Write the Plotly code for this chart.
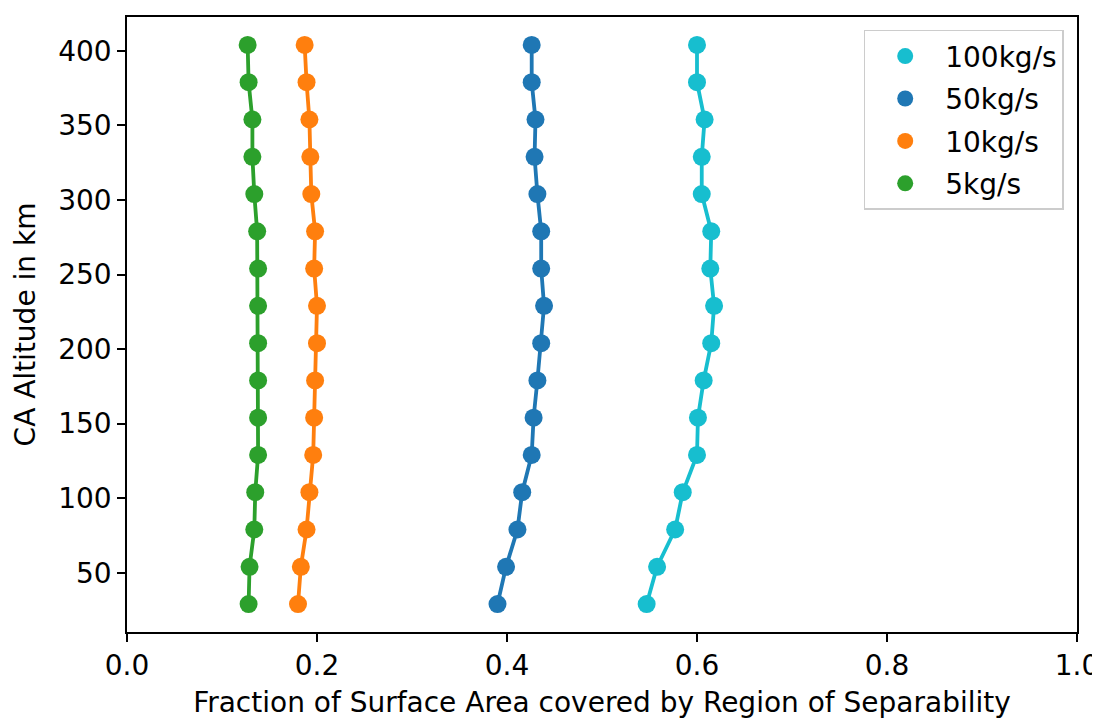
import plotly.graph_objects as go

altitude = [29, 54, 79, 104, 129, 154, 179, 204, 229, 254, 279, 304, 329, 354, 379, 404]

frac_100 = [0.547, 0.558, 0.577, 0.585, 0.600, 0.601, 0.607, 0.615, 0.618, 0.614, 0.615, 0.605, 0.605, 0.608, 0.600, 0.600]
frac_50 = [0.390, 0.399, 0.411, 0.416, 0.426, 0.428, 0.432, 0.436, 0.439, 0.436, 0.436, 0.432, 0.429, 0.430, 0.426, 0.426]
frac_10 = [0.180, 0.183, 0.189, 0.192, 0.196, 0.197, 0.198, 0.200, 0.200, 0.197, 0.198, 0.194, 0.193, 0.192, 0.189, 0.187]
frac_5 = [0.128, 0.129, 0.134, 0.135, 0.138, 0.138, 0.138, 0.138, 0.138, 0.138, 0.137, 0.134, 0.132, 0.132, 0.128, 0.127]

series_names = ["100kg/s", "50kg/s", "10kg/s", "5kg/s"]
series_values = [frac_100, frac_50, frac_10, frac_5]
series_colors = ["#17becf", "#1f77b4", "#ff7f0e", "#2ca02c"]

x_ticks = [0.0, 0.2, 0.4, 0.6, 0.8, 1.0]
y_ticks = [50, 100, 150, 200, 250, 300, 350, 400]

fig = go.Figure()

for name, vals, col in zip(series_names, series_values, series_colors):
    fig.add_trace(go.Scatter(
        x=vals, y=altitude, mode="lines+markers", name=name,
        line=dict(color=col, width=3.8),
        marker=dict(color=col, size=18),
        showlegend=False,
    ))

for i, (name, col) in enumerate(zip(series_names, series_colors)):
    fig.add_trace(go.Scatter(
        x=[None], y=[None], mode="markers", name=name,
        marker=dict(color=col, size=20),
        legendgroup="g%d" % i, showlegend=True,
    ))

tick_font = dict(family="DejaVu Sans", size=28, color="black")
title_font = dict(family="DejaVu Sans", size=28, color="black")

fig.update_layout(
    width=1100, height=718,
    margin=dict(l=119, r=31, t=7, b=94),
    paper_bgcolor="white", plot_bgcolor="white",
    font=tick_font,
    showlegend=True,
    legend=dict(
        x=0.986, y=0.979, xanchor="right", yanchor="top",
        bordercolor="#cccccc", borderwidth=1.5, bgcolor="white",
        font=dict(family="DejaVu Sans", size=28, color="black"),
        tracegroupgap=3, itemwidth=70,
        traceorder="grouped",
    ),
    xaxis=dict(
        range=[0, 1.0], tickvals=x_ticks, tickformat=".1f",
        showgrid=False, zeroline=False,
        showline=True, linecolor="black", linewidth=1.5, mirror=True,
        ticks="outside", ticklen=8, tickwidth=1.5, tickcolor="black",
        title=dict(text="Fraction of Surface Area covered by Region of Separability",
                   font=title_font, standoff=11),
        tickfont=tick_font,
    ),
    yaxis=dict(
        range=[10.25, 422.75], tickvals=y_ticks,
        showgrid=False, zeroline=False,
        showline=True, linecolor="black", linewidth=1.5, mirror=True,
        ticks="outside", ticklen=8, tickwidth=1.5, tickcolor="black",
        title=dict(text="CA Altitude in km", font=title_font, standoff=14),
        tickfont=tick_font,
    ),
)

fig.write_html("out.html")
